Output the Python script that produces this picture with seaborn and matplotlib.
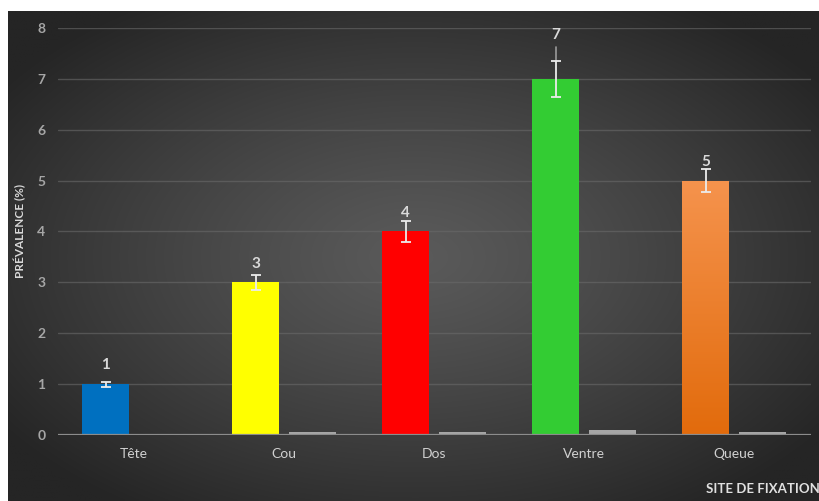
import numpy as np
import pandas as pd
import matplotlib
matplotlib.use("Agg")
import matplotlib.pyplot as plt
import seaborn as sns

# ---------------- data ----------------
categories = ["Tête", "Cou", "Dos", "Ventre", "Queue"]
prevalence = [1, 3, 4, 7, 5]
prevalence_err = [0.05, 0.15, 0.2, 0.35, 0.23]
prevalence_ext = [0, 0, 0, 0.27, 0]          # faint extra whisker above the cap
second_series = [0.01, 0.05, 0.05, 0.1, 0.065]
bar_colors = ["#0070c0", "#ffff00", "#ff0000", "#33cc33", "#ee7d31"]
y_ticks = [0, 1, 2, 3, 4, 5, 6, 7, 8]
y_label = "PRÉVALENCE (%)"
x_label = "SITE DE FIXATION"

df = pd.DataFrame({
    "site": categories * 2,
    "serie": ["A"] * len(categories) + ["B"] * len(categories),
    "val": prevalence + second_series,
})

sns.set_theme(style="dark")
plt.rcParams["font.family"] = ["Lato", "DejaVu Sans"]

W, H = 820, 501
fig = plt.figure(figsize=(W / 100, H / 100), dpi=100)
fig.patch.set_facecolor("white")

# background radial gradient panel
bg = fig.add_axes([8 / W, 0, (W - 8) / W, (H - 11) / H])
bg.set_axis_off()
ny, nx = 200, 330
yy, xx = np.mgrid[0:ny, 0:nx]
cx, cy = nx * 0.5, ny * 0.5
d = np.sqrt(((xx - cx) / (nx * 0.62)) ** 2 + ((yy - cy) / (ny * 0.62)) ** 2)
d = np.clip(d, 0, 1)
lev = (0x5a - (0x5a - 0x25) * d ** 1.2) / 255.0
img = np.dstack([lev, lev, lev])
bg.imshow(img, aspect="auto", extent=[0, 1, 0, 1], interpolation="bilinear")
bg.set_xlim(0, 1); bg.set_ylim(0, 1)

ax = fig.add_axes([58 / W, (H - 435) / H, (811 - 58) / W, (435 - 28) / H])
ax.set_facecolor("none")
ax.patch.set_alpha(0)

sns.barplot(data=df, x="site", y="val", hue="serie", order=categories,
            hue_order=["A", "B"], palette=["#a6a6a6", "#a6a6a6"],
            width=0.76, gap=0.18, ax=ax, legend=False, linewidth=0,
            zorder=3)

patches = sorted(ax.patches, key=lambda p: p.get_x())
main_bars = patches[0::2]
grey_bars = patches[1::2]
for p, c in zip(main_bars, bar_colors):
    p.set_facecolor(c)
    p.set_edgecolor("none")
for p in grey_bars:
    p.set_facecolor("#a6a6a6")
    p.set_edgecolor("none")

# gradient on the orange bar (like the Excel fill)
ob = main_bars[4]
x0, w, h = ob.get_x(), ob.get_width(), ob.get_height()
grad = np.linspace(0, 1, 100)[:, None]
top = np.array([0xf5, 0x93, 0x4d]) / 255
bot = np.array([0xe2, 0x6b, 0x0c]) / 255
gimg = top[None, None, :] * (1 - grad[..., None]) + bot[None, None, :] * grad[..., None]
gimg = np.repeat(gimg, 2, axis=1)
im = ax.imshow(gimg, extent=[x0, x0 + w, 0, h], aspect="auto", zorder=3.5,
               interpolation="bilinear")
im.set_clip_path(ob)

xc = [p.get_x() + p.get_width() / 2 for p in main_bars]

# grey extra whisker
for x, v, e, ex in zip(xc, prevalence, prevalence_err, prevalence_ext):
    if ex > 0:
        ax.plot([x, x], [v + e, v + e + ex], color="#9a9a9a", lw=1.2, zorder=4)

ax.errorbar(xc, prevalence, yerr=prevalence_err, fmt="none", ecolor="#ececec",
            elinewidth=1.3, capsize=3.5, capthick=1.3, zorder=5)

for x, v, e, ex in zip(xc, prevalence, prevalence_err, prevalence_ext):
    ycen = v + 0.37 if ex == 0 else v + e + ex + 0.25
    ax.text(x, ycen, str(v), ha="center", va="center", fontsize=11,
            fontweight="bold", color="#d9d9d9", zorder=6)

ax.set_xlim(-0.507, 4.513)
ax.set_ylim(0, 8)
ax.set_yticks(y_ticks)
ax.set_yticklabels([str(t) for t in y_ticks])
ax.grid(axis="y", color="#6a6a6a", linewidth=1.0, alpha=0.6, zorder=0)
ax.grid(axis="x", visible=False)
ax.axhline(0, color="#8c8c8c", lw=1.6, zorder=4)
for s in ax.spines.values():
    s.set_visible(False)
ax.tick_params(axis="y", length=0, pad=9, labelsize=10, labelcolor="#a6a6a6")
ax.tick_params(axis="x", length=0, pad=9, labelsize=10, labelcolor="#d0d0d0")
for t in ax.get_yticklabels():
    t.set_fontweight("bold")
ax.set_xlabel("")
ax.set_ylabel("")

fig.text(20 / W, 1 - 231 / H, y_label, rotation=90, ha="center", va="center",
         fontsize=8.5, fontweight="bold", color="#d9d9d9")
fig.text(1.0, 1 - 489 / H, x_label, ha="right", va="center",
         fontsize=9.5, fontweight="bold", color="#e0e0e0")

fig.savefig("out.png", dpi=100, facecolor=fig.get_facecolor())
